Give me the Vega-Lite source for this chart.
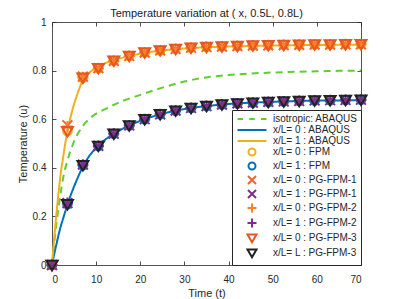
{
  "$schema": "https://vega.github.io/schema/vega-lite/v6.json",
  "width": 309,
  "height": 243,
  "autosize": "none",
  "padding": {"left": 52, "top": 22, "right": 38, "bottom": 34},
  "title": {"text": "Temperature variation at ( x, 0.5L, 0.8L)", "fontSize": 11, "fontWeight": "normal", "font": "Liberation Sans", "color": "#1a1a1a", "offset": -2},
  "config": {
    "font": "Liberation Sans",
    "view": {"stroke": null},
    "axis": {"grid": false, "domainColor": "#262626", "domainWidth": 0.8, "tickColor": "#262626", "tickWidth": 0.8, "tickSize": -4, "labelColor": "#262626", "labelFontSize": 10, "labelFont": "Liberation Sans", "titleColor": "#262626", "titleFontSize": 11, "titleFontWeight": "normal", "titleFont": "Liberation Sans"},
    "legend": {"orient": "bottom-right", "offset": 0, "padding": 3, "strokeColor": "#262626", "fillColor": "white", "symbolStrokeWidth": 2, "symbolOffset": 11, "labelOffset": 15, "labelFontSize": 10, "labelFont": "Liberation Sans", "labelColor": "#262626", "rowPadding": -3.5, "labelLimit": 200}
  },
  "datasets": {
    "lines": [
      {"series": "isotropic: ABAQUS", "t": 0, "u": 0},
      {"series": "isotropic: ABAQUS", "t": 0.5, "u": 0.09},
      {"series": "isotropic: ABAQUS", "t": 1, "u": 0.17},
      {"series": "isotropic: ABAQUS", "t": 1.5, "u": 0.24},
      {"series": "isotropic: ABAQUS", "t": 2, "u": 0.3},
      {"series": "isotropic: ABAQUS", "t": 2.6, "u": 0.365},
      {"series": "isotropic: ABAQUS", "t": 3.5, "u": 0.43},
      {"series": "isotropic: ABAQUS", "t": 4.8, "u": 0.5},
      {"series": "isotropic: ABAQUS", "t": 6, "u": 0.545},
      {"series": "isotropic: ABAQUS", "t": 7.1, "u": 0.575},
      {"series": "isotropic: ABAQUS", "t": 9, "u": 0.61},
      {"series": "isotropic: ABAQUS", "t": 12.4, "u": 0.645},
      {"series": "isotropic: ABAQUS", "t": 16, "u": 0.675},
      {"series": "isotropic: ABAQUS", "t": 20, "u": 0.7},
      {"series": "isotropic: ABAQUS", "t": 25, "u": 0.73},
      {"series": "isotropic: ABAQUS", "t": 30, "u": 0.755},
      {"series": "isotropic: ABAQUS", "t": 35, "u": 0.772},
      {"series": "isotropic: ABAQUS", "t": 40, "u": 0.782},
      {"series": "isotropic: ABAQUS", "t": 45, "u": 0.788},
      {"series": "isotropic: ABAQUS", "t": 50, "u": 0.792},
      {"series": "isotropic: ABAQUS", "t": 55, "u": 0.795},
      {"series": "isotropic: ABAQUS", "t": 60, "u": 0.797},
      {"series": "isotropic: ABAQUS", "t": 65, "u": 0.799},
      {"series": "isotropic: ABAQUS", "t": 70, "u": 0.8},
      {"series": "x/L= 0 : ABAQUS", "t": 0, "u": 0},
      {"series": "x/L= 0 : ABAQUS", "t": 0.5, "u": 0.045},
      {"series": "x/L= 0 : ABAQUS", "t": 1, "u": 0.085},
      {"series": "x/L= 0 : ABAQUS", "t": 1.5, "u": 0.125},
      {"series": "x/L= 0 : ABAQUS", "t": 2, "u": 0.16},
      {"series": "x/L= 0 : ABAQUS", "t": 2.5, "u": 0.19},
      {"series": "x/L= 0 : ABAQUS", "t": 3, "u": 0.22},
      {"series": "x/L= 0 : ABAQUS", "t": 3.5, "u": 0.25},
      {"series": "x/L= 0 : ABAQUS", "t": 4.5, "u": 0.3},
      {"series": "x/L= 0 : ABAQUS", "t": 5.5, "u": 0.345},
      {"series": "x/L= 0 : ABAQUS", "t": 7, "u": 0.405},
      {"series": "x/L= 0 : ABAQUS", "t": 8.5, "u": 0.45},
      {"series": "x/L= 0 : ABAQUS", "t": 10.5, "u": 0.49},
      {"series": "x/L= 0 : ABAQUS", "t": 12, "u": 0.515},
      {"series": "x/L= 0 : ABAQUS", "t": 14, "u": 0.54},
      {"series": "x/L= 0 : ABAQUS", "t": 17.5, "u": 0.574},
      {"series": "x/L= 0 : ABAQUS", "t": 21, "u": 0.6},
      {"series": "x/L= 0 : ABAQUS", "t": 24.5, "u": 0.62},
      {"series": "x/L= 0 : ABAQUS", "t": 28, "u": 0.635},
      {"series": "x/L= 0 : ABAQUS", "t": 31.5, "u": 0.646},
      {"series": "x/L= 0 : ABAQUS", "t": 35, "u": 0.654},
      {"series": "x/L= 0 : ABAQUS", "t": 42, "u": 0.665},
      {"series": "x/L= 0 : ABAQUS", "t": 49, "u": 0.671},
      {"series": "x/L= 0 : ABAQUS", "t": 56, "u": 0.675},
      {"series": "x/L= 0 : ABAQUS", "t": 63, "u": 0.677},
      {"series": "x/L= 0 : ABAQUS", "t": 70, "u": 0.678},
      {"series": "x/L= 1 : ABAQUS", "t": 0, "u": 0},
      {"series": "x/L= 1 : ABAQUS", "t": 0.5, "u": 0.11},
      {"series": "x/L= 1 : ABAQUS", "t": 1, "u": 0.21},
      {"series": "x/L= 1 : ABAQUS", "t": 1.5, "u": 0.3},
      {"series": "x/L= 1 : ABAQUS", "t": 2, "u": 0.38},
      {"series": "x/L= 1 : ABAQUS", "t": 2.5, "u": 0.44},
      {"series": "x/L= 1 : ABAQUS", "t": 3, "u": 0.5},
      {"series": "x/L= 1 : ABAQUS", "t": 3.5, "u": 0.55},
      {"series": "x/L= 1 : ABAQUS", "t": 4.5, "u": 0.63},
      {"series": "x/L= 1 : ABAQUS", "t": 5.5, "u": 0.69},
      {"series": "x/L= 1 : ABAQUS", "t": 7, "u": 0.76},
      {"series": "x/L= 1 : ABAQUS", "t": 8.5, "u": 0.792},
      {"series": "x/L= 1 : ABAQUS", "t": 10.5, "u": 0.815},
      {"series": "x/L= 1 : ABAQUS", "t": 12, "u": 0.83},
      {"series": "x/L= 1 : ABAQUS", "t": 14, "u": 0.843},
      {"series": "x/L= 1 : ABAQUS", "t": 17.5, "u": 0.86},
      {"series": "x/L= 1 : ABAQUS", "t": 21, "u": 0.873},
      {"series": "x/L= 1 : ABAQUS", "t": 24.5, "u": 0.882},
      {"series": "x/L= 1 : ABAQUS", "t": 28, "u": 0.888},
      {"series": "x/L= 1 : ABAQUS", "t": 31.5, "u": 0.893},
      {"series": "x/L= 1 : ABAQUS", "t": 35, "u": 0.896},
      {"series": "x/L= 1 : ABAQUS", "t": 42, "u": 0.9},
      {"series": "x/L= 1 : ABAQUS", "t": 49, "u": 0.903},
      {"series": "x/L= 1 : ABAQUS", "t": 56, "u": 0.905},
      {"series": "x/L= 1 : ABAQUS", "t": 63, "u": 0.906},
      {"series": "x/L= 1 : ABAQUS", "t": 70, "u": 0.907}
    ],
    "pts": [
      {"t": 0, "x/L= 0 : FPM": 0, "x/L= 1 : FPM": 0, "x/L= 0 : PG-FPM-1": 0, "x/L= 1 : PG-FPM-1": 0, "x/L= 0 : PG-FPM-2": 0, "x/L= 1 : PG-FPM-2": 0, "x/L= 0 : PG-FPM-3": 0, "x/L= L : PG-FPM-3": 0},
      {"t": 3.5, "x/L= 0 : FPM": 0.55, "x/L= 1 : FPM": 0.25, "x/L= 0 : PG-FPM-1": 0.575, "x/L= 1 : PG-FPM-1": 0.255, "x/L= 0 : PG-FPM-2": 0.57, "x/L= 1 : PG-FPM-2": 0.255, "x/L= 0 : PG-FPM-3": 0.55, "x/L= L : PG-FPM-3": 0.25},
      {"t": 7, "x/L= 0 : FPM": 0.77, "x/L= 1 : FPM": 0.41, "x/L= 0 : PG-FPM-1": 0.775, "x/L= 1 : PG-FPM-1": 0.413, "x/L= 0 : PG-FPM-2": 0.773, "x/L= 1 : PG-FPM-2": 0.413, "x/L= 0 : PG-FPM-3": 0.77, "x/L= L : PG-FPM-3": 0.41},
      {"t": 10.5, "x/L= 0 : FPM": 0.81, "x/L= 1 : FPM": 0.49, "x/L= 0 : PG-FPM-1": 0.81, "x/L= 1 : PG-FPM-1": 0.49, "x/L= 0 : PG-FPM-2": 0.81, "x/L= 1 : PG-FPM-2": 0.49, "x/L= 0 : PG-FPM-3": 0.81, "x/L= L : PG-FPM-3": 0.49},
      {"t": 14, "x/L= 0 : FPM": 0.84, "x/L= 1 : FPM": 0.54, "x/L= 0 : PG-FPM-1": 0.84, "x/L= 1 : PG-FPM-1": 0.54, "x/L= 0 : PG-FPM-2": 0.84, "x/L= 1 : PG-FPM-2": 0.54, "x/L= 0 : PG-FPM-3": 0.84, "x/L= L : PG-FPM-3": 0.54},
      {"t": 17.5, "x/L= 0 : FPM": 0.86, "x/L= 1 : FPM": 0.574, "x/L= 0 : PG-FPM-1": 0.86, "x/L= 1 : PG-FPM-1": 0.574, "x/L= 0 : PG-FPM-2": 0.86, "x/L= 1 : PG-FPM-2": 0.574, "x/L= 0 : PG-FPM-3": 0.86, "x/L= L : PG-FPM-3": 0.574},
      {"t": 21, "x/L= 0 : FPM": 0.874, "x/L= 1 : FPM": 0.6, "x/L= 0 : PG-FPM-1": 0.874, "x/L= 1 : PG-FPM-1": 0.6, "x/L= 0 : PG-FPM-2": 0.874, "x/L= 1 : PG-FPM-2": 0.6, "x/L= 0 : PG-FPM-3": 0.874, "x/L= L : PG-FPM-3": 0.6},
      {"t": 24.5, "x/L= 0 : FPM": 0.883, "x/L= 1 : FPM": 0.62, "x/L= 0 : PG-FPM-1": 0.883, "x/L= 1 : PG-FPM-1": 0.62, "x/L= 0 : PG-FPM-2": 0.883, "x/L= 1 : PG-FPM-2": 0.62, "x/L= 0 : PG-FPM-3": 0.883, "x/L= L : PG-FPM-3": 0.62},
      {"t": 28, "x/L= 0 : FPM": 0.889, "x/L= 1 : FPM": 0.635, "x/L= 0 : PG-FPM-1": 0.889, "x/L= 1 : PG-FPM-1": 0.635, "x/L= 0 : PG-FPM-2": 0.889, "x/L= 1 : PG-FPM-2": 0.635, "x/L= 0 : PG-FPM-3": 0.889, "x/L= L : PG-FPM-3": 0.635},
      {"t": 31.5, "x/L= 0 : FPM": 0.894, "x/L= 1 : FPM": 0.646, "x/L= 0 : PG-FPM-1": 0.894, "x/L= 1 : PG-FPM-1": 0.646, "x/L= 0 : PG-FPM-2": 0.894, "x/L= 1 : PG-FPM-2": 0.646, "x/L= 0 : PG-FPM-3": 0.894, "x/L= L : PG-FPM-3": 0.646},
      {"t": 35, "x/L= 0 : FPM": 0.897, "x/L= 1 : FPM": 0.654, "x/L= 0 : PG-FPM-1": 0.897, "x/L= 1 : PG-FPM-1": 0.654, "x/L= 0 : PG-FPM-2": 0.897, "x/L= 1 : PG-FPM-2": 0.654, "x/L= 0 : PG-FPM-3": 0.897, "x/L= L : PG-FPM-3": 0.654},
      {"t": 38.5, "x/L= 0 : FPM": 0.899, "x/L= 1 : FPM": 0.66, "x/L= 0 : PG-FPM-1": 0.899, "x/L= 1 : PG-FPM-1": 0.66, "x/L= 0 : PG-FPM-2": 0.899, "x/L= 1 : PG-FPM-2": 0.66, "x/L= 0 : PG-FPM-3": 0.899, "x/L= L : PG-FPM-3": 0.66},
      {"t": 42, "x/L= 0 : FPM": 0.901, "x/L= 1 : FPM": 0.665, "x/L= 0 : PG-FPM-1": 0.901, "x/L= 1 : PG-FPM-1": 0.665, "x/L= 0 : PG-FPM-2": 0.901, "x/L= 1 : PG-FPM-2": 0.665, "x/L= 0 : PG-FPM-3": 0.901, "x/L= L : PG-FPM-3": 0.665},
      {"t": 45.5, "x/L= 0 : FPM": 0.903, "x/L= 1 : FPM": 0.668, "x/L= 0 : PG-FPM-1": 0.903, "x/L= 1 : PG-FPM-1": 0.668, "x/L= 0 : PG-FPM-2": 0.903, "x/L= 1 : PG-FPM-2": 0.668, "x/L= 0 : PG-FPM-3": 0.903, "x/L= L : PG-FPM-3": 0.668},
      {"t": 49, "x/L= 0 : FPM": 0.904, "x/L= 1 : FPM": 0.671, "x/L= 0 : PG-FPM-1": 0.904, "x/L= 1 : PG-FPM-1": 0.671, "x/L= 0 : PG-FPM-2": 0.904, "x/L= 1 : PG-FPM-2": 0.671, "x/L= 0 : PG-FPM-3": 0.904, "x/L= L : PG-FPM-3": 0.671},
      {"t": 52.5, "x/L= 0 : FPM": 0.905, "x/L= 1 : FPM": 0.673, "x/L= 0 : PG-FPM-1": 0.905, "x/L= 1 : PG-FPM-1": 0.673, "x/L= 0 : PG-FPM-2": 0.905, "x/L= 1 : PG-FPM-2": 0.673, "x/L= 0 : PG-FPM-3": 0.905, "x/L= L : PG-FPM-3": 0.673},
      {"t": 56, "x/L= 0 : FPM": 0.906, "x/L= 1 : FPM": 0.675, "x/L= 0 : PG-FPM-1": 0.906, "x/L= 1 : PG-FPM-1": 0.675, "x/L= 0 : PG-FPM-2": 0.906, "x/L= 1 : PG-FPM-2": 0.675, "x/L= 0 : PG-FPM-3": 0.906, "x/L= L : PG-FPM-3": 0.675},
      {"t": 59.5, "x/L= 0 : FPM": 0.907, "x/L= 1 : FPM": 0.677, "x/L= 0 : PG-FPM-1": 0.907, "x/L= 1 : PG-FPM-1": 0.677, "x/L= 0 : PG-FPM-2": 0.907, "x/L= 1 : PG-FPM-2": 0.677, "x/L= 0 : PG-FPM-3": 0.907, "x/L= L : PG-FPM-3": 0.677},
      {"t": 63, "x/L= 0 : FPM": 0.907, "x/L= 1 : FPM": 0.678, "x/L= 0 : PG-FPM-1": 0.907, "x/L= 1 : PG-FPM-1": 0.678, "x/L= 0 : PG-FPM-2": 0.907, "x/L= 1 : PG-FPM-2": 0.678, "x/L= 0 : PG-FPM-3": 0.907, "x/L= L : PG-FPM-3": 0.678},
      {"t": 66.5, "x/L= 0 : FPM": 0.908, "x/L= 1 : FPM": 0.679, "x/L= 0 : PG-FPM-1": 0.908, "x/L= 1 : PG-FPM-1": 0.679, "x/L= 0 : PG-FPM-2": 0.908, "x/L= 1 : PG-FPM-2": 0.679, "x/L= 0 : PG-FPM-3": 0.908, "x/L= L : PG-FPM-3": 0.679},
      {"t": 70, "x/L= 0 : FPM": 0.908, "x/L= 1 : FPM": 0.68, "x/L= 0 : PG-FPM-1": 0.908, "x/L= 1 : PG-FPM-1": 0.68, "x/L= 0 : PG-FPM-2": 0.908, "x/L= 1 : PG-FPM-2": 0.68, "x/L= 0 : PG-FPM-3": 0.908, "x/L= L : PG-FPM-3": 0.68}
    ]
  },
  "layer": [
    {
      "data": {"name": "lines"},
      "mark": {"type": "line", "strokeWidth": 2, "interpolate": "monotone"},
      "encoding": {
        "x": {"field": "t", "type": "quantitative", "scale": {"domain": [0, 70]}, "axis": {"orient": "bottom", "values": [0, 10, 20, 30, 40, 50, 60, 70], "format": "d", "title": "Time (t)", "labelPadding": 13, "titlePadding": 3}},
        "y": {"field": "u", "type": "quantitative", "scale": {"domain": [0, 1]}, "axis": {"orient": "left", "values": [0, 0.2, 0.4, 0.6, 0.8, 1], "format": "~g", "title": "Temperature (u)", "labelPadding": 10, "titlePadding": 4}},
        "color": {"field": "series", "type": "nominal", "legend": null,
          "scale": {"domain": ["isotropic: ABAQUS", "x/L= 0 : ABAQUS", "x/L= 1 : ABAQUS", "x/L= 0 : FPM", "x/L= 1 : FPM", "x/L= 0 : PG-FPM-1", "x/L= 1 : PG-FPM-1", "x/L= 0 : PG-FPM-2", "x/L= 1 : PG-FPM-2", "x/L= 0 : PG-FPM-3", "x/L= L : PG-FPM-3"],
                    "range": ["#5dd02c", "#0072bd", "#edb120", "#edb120", "#0072bd", "#f5622a", "#7e2f8e", "#ff7f2a", "#7e2f8e", "#e4571e", "#222222"]}},
        "strokeDash": {"field": "series", "type": "nominal", "legend": null,
          "scale": {"domain": ["isotropic: ABAQUS", "x/L= 0 : ABAQUS", "x/L= 1 : ABAQUS"], "range": [[7, 5], [1, 0], [1, 0]]}}
      }
    },
    {
      "data": {"name": "pts"},
      "transform": [{"fold": ["x/L= 0 : FPM", "x/L= 1 : FPM", "x/L= 0 : PG-FPM-1", "x/L= 1 : PG-FPM-1", "x/L= 0 : PG-FPM-2", "x/L= 1 : PG-FPM-2", "x/L= 0 : PG-FPM-3", "x/L= L : PG-FPM-3"], "as": ["series", "u"]}],
      "mark": {"type": "point", "filled": false, "strokeWidth": 2, "size": 149, "opacity": 1},
      "encoding": {
        "x": {"field": "t", "type": "quantitative", "axis": {"orient": "top", "labels": false, "title": null, "values": [0, 10, 20, 30, 40, 50, 60, 70], "minExtent": 0, "maxExtent": 0}},
        "y": {"field": "u", "type": "quantitative", "axis": {"orient": "right", "labels": false, "title": null, "values": [0, 0.2, 0.4, 0.6, 0.8, 1], "minExtent": 0, "maxExtent": 0}},
        "color": {"field": "series", "type": "nominal", "legend": null},
        "shape": {"field": "series", "type": "nominal", "legend": null,
          "scale": {"domain": ["isotropic: ABAQUS", "x/L= 0 : ABAQUS", "x/L= 1 : ABAQUS", "x/L= 0 : FPM", "x/L= 1 : FPM", "x/L= 0 : PG-FPM-1", "x/L= 1 : PG-FPM-1", "x/L= 0 : PG-FPM-2", "x/L= 1 : PG-FPM-2", "x/L= 0 : PG-FPM-3", "x/L= L : PG-FPM-3"],
                    "range": ["M-2.9,0L-1.8,0M-0.55,0L0.55,0M1.8,0L2.9,0", "M-2.9,0L2.9,0", "M-2.9,0L2.9,0", "M0.7,0A0.7,0.7 0 1,1 -0.7,0A0.7,0.7 0 1,1 0.7,0Z", "M0.7,0A0.7,0.7 0 1,1 -0.7,0A0.7,0.7 0 1,1 0.7,0Z", "M-0.8,-0.8L0.8,0.8M-0.8,0.8L0.8,-0.8", "M-0.8,-0.8L0.8,0.8M-0.8,0.8L0.8,-0.8", "M-0.9,0L0.9,0M0,-0.9L0,0.9", "M-0.9,0L0.9,0M0,-0.9L0,0.9", "M-0.9,-0.7L0.9,-0.7L0,0.85Z", "M-0.9,-0.7L0.9,-0.7L0,0.85Z"]}}
      }
    },
    {
      "data": {"values": []},
      "mark": {"type": "point", "filled": false, "strokeWidth": 2, "opacity": 1},
      "encoding": {
        "x": {"field": "t", "type": "quantitative", "axis": null},
        "y": {"field": "u", "type": "quantitative", "axis": null},
        "color": {"field": "series", "type": "nominal", "legend": {"title": null}},
        "shape": {"field": "series", "type": "nominal", "legend": {"title": null}}
      }
    }
  ],
  "resolve": {"axis": {"x": "independent", "y": "independent"}, "legend": {"color": "independent", "shape": "independent"}}
}
